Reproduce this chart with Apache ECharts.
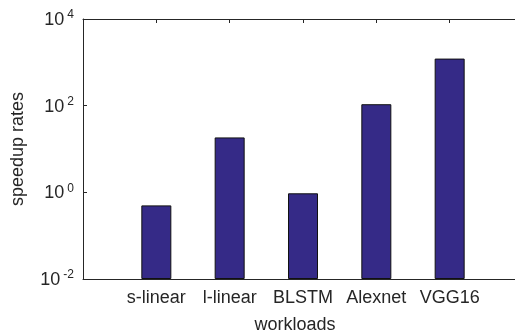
<!DOCTYPE html>
<html>
<head>
<meta charset="utf-8">
<script src="https://cdn.jsdelivr.net/npm/echarts@6/dist/echarts.min.js"></script>
<style>
  html, body { margin: 0; padding: 0; background: #fff; }
  #chart { width: 515px; height: 330px; }
</style>
</head>
<body>
<div id="chart"></div>
<script>
// categories sit at x = 1..5 (matlab style xlim [0, 6])
const workloads = ['s-linear', 'l-linear', 'BLSTM', 'Alexnet', 'VGG16'];
const speedup = [0.5, 18.5, 0.95, 108, 1220];
const yTickExp = [-2, 0, 2, 4];

const axisColor = '#262626';
const fontFamily = '"Liberation Sans", Arial, Helvetica, sans-serif';

const myChart = echarts.init(document.getElementById('chart'));

const option = {
    animation: false,
    grid: {
        left: 83,
        top: 19,
        width: 440,
        height: 260,
        outerBoundsMode: 'none',
        containLabel: false,
        show: false
    },
    xAxis: [{
        type: 'value',
        min: 0,
        max: 6,
        interval: 1,
        position: 'bottom',
        name: 'workloads',
        nameLocation: 'middle',
        nameGap: 37,
        nameTextStyle: {color: axisColor, fontSize: 18, fontFamily: fontFamily, padding: [0, 16, 0, 0]},
        splitLine: {show: false},
        axisLine: {lineStyle: {color: axisColor}},
        axisTick: {inside: true, length: 4, lineStyle: {color: axisColor}},
        axisLabel: {
            color: axisColor,
            fontSize: 18,
            fontFamily: fontFamily,
            margin: 10,
            formatter: function (v) {
                return workloads[v - 1] || '';
            }
        }
    }, {
        type: 'value',
        min: 0,
        max: 6,
        interval: 1,
        position: 'top',
        splitLine: {show: false},
        axisLine: {lineStyle: {color: axisColor}},
        axisTick: {inside: true, length: 4, lineStyle: {color: axisColor}},
        axisLabel: {show: false}
    }],
    yAxis: {
        type: 'log',
        logBase: 10,
        min: 0.01,
        max: 10000,
        interval: 2,
        startValue: 0.01,
        name: 'speedup rates',
        nameLocation: 'middle',
        nameGap: 56,
        nameTextStyle: {color: axisColor, fontSize: 18, fontFamily: fontFamily},
        splitLine: {show: false},
        axisLine: {show: true, lineStyle: {color: axisColor}},
        axisTick: {inside: true, length: 4, lineStyle: {color: axisColor}},
        axisLabel: {
            margin: 9,
            formatter: function (v) {
                const e = Math.round(Math.log10(v));
                return '{base|10}{sup|' + e + '}';
            },
            rich: {
                base: {color: axisColor, fontSize: 18, fontFamily: fontFamily, lineHeight: 20, padding: [4, 0, 0, 0], verticalAlign: 'bottom'},
                sup: {color: axisColor, fontSize: 12, fontFamily: fontFamily, lineHeight: 14, padding: [0, 0, 0, 3], verticalAlign: 'top'}
            }
        }
    },
    series: [{
        name: 'speedup',
        type: 'bar',
        xAxisIndex: 0,
        barWidth: 30,
        itemStyle: {
            color: '#352a87',
            borderColor: '#111',
            borderWidth: 1
        },
        data: speedup.map(function (v, i) { return [i + 1, v]; })
    }]
};
myChart.setOption(option);
</script>
</body>
</html>
